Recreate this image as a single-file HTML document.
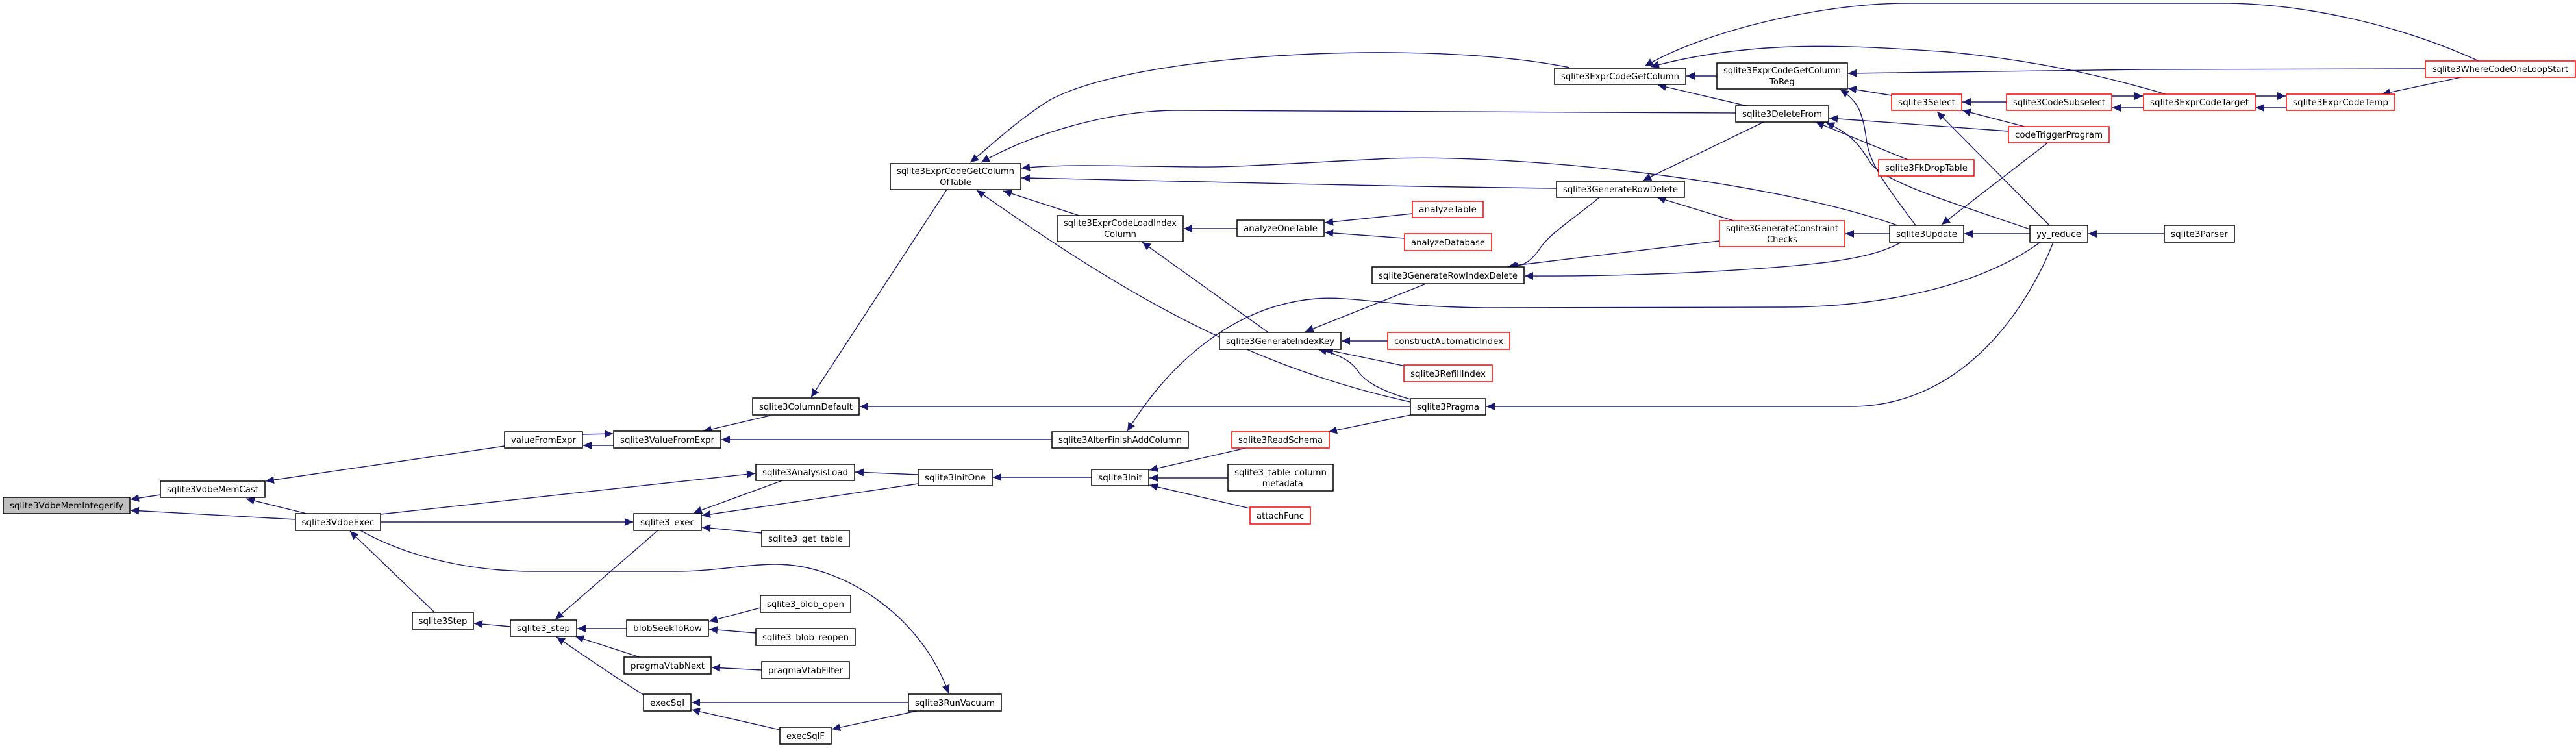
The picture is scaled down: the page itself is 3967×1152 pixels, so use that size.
<!DOCTYPE html>
<html><head><meta charset="utf-8"><style>
html,body{margin:0;padding:0;background:#fff;}
svg{display:block;}
text{font-family:"DejaVu Sans","Liberation Sans",sans-serif;font-size:13px;fill:#000;}
</style></head><body>
<svg width="3967" height="1152" viewBox="0 0 3967 1152" xmlns="http://www.w3.org/2000/svg">
<defs>
<marker id="a" markerUnits="userSpaceOnUse" markerWidth="14" markerHeight="12" refX="13" refY="6" orient="auto">
<path d="M0,0 L13,6 L0,12 Z" fill="#191970"/>
</marker>
</defs>
<g fill="none" stroke="#191970" stroke-width="1.4" marker-end="url(#a)">
<!-- left cluster -->
<path d="M247,762 L201,769"/>
<path d="M455,800 L201,786"/>
<path d="M472,791 L379,768"/>
<path d="M777,687 L409,741"/>
<path d="M897,669 L944,668"/>
<path d="M945,686 L898,686"/>
<path d="M586,792 L1163,729"/>
<path d="M586,804 L975,804"/>
<path d="M555,817 C650,870 760,880 820,880 L1041,880 C1100,880 1150,869 1194,869 C1300,869 1420,950 1461,1068"/>
<path d="M668,942 L539,818"/>
<path d="M786,965 L730,960"/>
<path d="M1013,817 L855,954"/>
<path d="M965,968 L889,968"/>
<path d="M985,1012 L886,980"/>
<path d="M991,1070 C950,1045 900,1010 857,981"/>
<path d="M1186,640 L1083,664"/>
<path d="M1458,292 L1249,612"/>
<path d="M2172,626 L1324,626"/>
<path d="M1620,677 L1111,677"/>
<path d="M3142,373 C3050,440 2900,473 2746,473 L2300,474 C2150,474 2080,455 2027,460 C1900,470 1800,560 1736,664"/>
<!-- OfTable incoming -->
<path d="M2417,104 C2200,60 1750,80 1615,155 C1560,190 1520,230 1494,250"/>
<path d="M2673,174 L1813,170 C1720,170 1600,200 1511,250"/>
<path d="M2922,347 C2700,270 2300,235 2122,245 C1980,252 1900,258 1841,257 C1720,256 1640,252 1573,259"/>
<path d="M2397,290 C2100,287 1800,278 1573,274"/>
<path d="M2172,619 C1900,560 1700,430 1504,293"/>
<path d="M1662,332 L1545,294"/>
<path d="M1905,352 L1823,352"/>
<path d="M2175,329 L2040,343"/>
<path d="M2163,367 L2040,358"/>
<path d="M1953,512 L1759,373"/>
<path d="M2196,437 L2010,511"/>
<path d="M2137,525 L2066,525"/>
<path d="M2165,564 L2040,538"/>
<path d="M2172,615 C2120,600 2100,585 2090,570 C2080,555 2060,545 2030,538"/>
<path d="M3162,373 C3120,480 3020,626 2850,626 L2289,626"/>
<path d="M2172,639 L2046,665"/>
<path d="M1919,690 L1770,724"/>
<path d="M1681,735 L1529,735"/>
<path d="M1891,736 L1770,736"/>
<path d="M1925,783 L1770,747"/>
<path d="M1414,731 L1317,727"/>
<path d="M1414,745 L1081,794"/>
<path d="M1205,740 L1068,790"/>
<path d="M1173,821 L1081,812"/>
<path d="M1171,936 L1092,957"/>
<path d="M1164,975 L1092,969"/>
<path d="M1173,1032 L1096,1028"/>
<path d="M1399,1082 L1065,1082"/>
<path d="M1412,1095 L1281,1123"/>
<path d="M1201,1124 L1065,1093"/>
<!-- right cluster -->
<path d="M2644,117 L2597,117"/>
<path d="M2690,163 L2553,131"/>
<path d="M3817,94 C3700,40 3550,5 3422,5 L2938,5 C2800,5 2620,50 2533,102"/>
<path d="M3335,145 C3250,120 3150,95 3000,80 C2850,70 2700,60 2542,103"/>
<path d="M3735,106 L3300,107 L2846,113"/>
<path d="M2913,147 L2846,136"/>
<path d="M2950,347 C2900,280 2878,250 2874,213 C2868,170 2860,155 2834,138"/>
<path d="M3090,157 L3022,157"/>
<path d="M3118,195 L3022,170"/>
<path d="M3093,202 L2817,182"/>
<path d="M2938,246 L2796,188"/>
<path d="M3126,353 C3000,310 2900,280 2880,250 C2865,225 2850,205 2812,189"/>
<path d="M2716,188 L2530,278"/>
<path d="M2670,340 L2552,304"/>
<path d="M2463,304 C2420,340 2385,360 2370,385 C2355,405 2345,410 2325,410"/>
<path d="M2648,371 L2323,410"/>
<path d="M2928,373 C2880,400 2800,410 2600,420 C2450,426 2390,425 2348,425"/>
<path d="M2910,360 L2842,360"/>
<path d="M3126,360 L3025,360"/>
<path d="M3156,347 L2983,172"/>
<path d="M3152,221 L2990,346"/>
<path d="M3333,360 L3216,360"/>
<path d="M3252,148 L3300,148"/>
<path d="M3301,166 L3253,166"/>
<path d="M3473,148 L3520,148"/>
<path d="M3521,166 L3474,166"/>
<path d="M3790,119 L3668,145"/>
</g>
<g stroke-width="1.5">
<rect x="5" y="766" width="195" height="25" fill="#bfbfbf" stroke="#000"/>
<g fill="#fff" stroke="#000">
<rect x="247" y="741" width="161" height="25"/>
<rect x="455" y="791" width="131" height="26"/>
<rect x="777" y="665" width="120" height="25"/>
<rect x="635" y="943" width="94" height="26"/>
<rect x="786" y="955" width="102" height="25"/>
<rect x="945" y="664" width="165" height="26"/>
<rect x="976" y="791" width="104" height="26"/>
<rect x="965" y="955" width="126" height="25"/>
<rect x="961" y="1012" width="134" height="26"/>
<rect x="991" y="1069" width="73" height="26"/>
<rect x="1159" y="613" width="164" height="26"/>
<rect x="1164" y="715" width="152" height="25"/>
<rect x="1173" y="817" width="135" height="25"/>
<rect x="1171" y="917" width="139" height="26"/>
<rect x="1164" y="968" width="153" height="26"/>
<rect x="1173" y="1019" width="135" height="26"/>
<rect x="1201" y="1120" width="79" height="26"/>
<rect x="1399" y="1069" width="143" height="26"/>
<rect x="1414" y="723" width="114" height="25"/>
<rect x="1371" y="252" width="201" height="40"/>
<rect x="1628" y="332" width="194" height="40"/>
<rect x="1620" y="665" width="210" height="25"/>
<rect x="1681" y="723" width="88" height="25"/>
<rect x="1905" y="339" width="134" height="25"/>
<rect x="1878" y="512" width="187" height="26"/>
<rect x="1891" y="715" width="162" height="41"/>
<rect x="2113" y="411" width="234" height="26"/>
<rect x="2172" y="614" width="116" height="25"/>
<rect x="2394" y="105" width="202" height="25"/>
<rect x="2397" y="279" width="197" height="25"/>
<rect x="2644" y="97" width="201" height="40"/>
<rect x="2673" y="163" width="143" height="25"/>
<rect x="2910" y="347" width="114" height="26"/>
<rect x="3126" y="347" width="89" height="26"/>
<rect x="3333" y="347" width="108" height="26"/>
</g>
<g fill="#fff" stroke="#ff0000">
<rect x="1897" y="665" width="150" height="25"/>
<rect x="1925" y="781" width="93" height="26"/>
<rect x="2175" y="310" width="109" height="25"/>
<rect x="2163" y="360" width="134" height="26"/>
<rect x="2137" y="512" width="188" height="26"/>
<rect x="2162" y="562" width="136" height="26"/>
<rect x="2648" y="340" width="193" height="40"/>
<rect x="2893" y="246" width="147" height="25"/>
<rect x="2913" y="145" width="108" height="25"/>
<rect x="3090" y="145" width="162" height="25"/>
<rect x="3093" y="195" width="155" height="25"/>
<rect x="3301" y="145" width="172" height="25"/>
<rect x="3521" y="145" width="167" height="25"/>
<rect x="3735" y="94" width="231" height="25"/>
</g>
</g>
<g text-anchor="middle" lengthAdjust="spacingAndGlyphs">
<text x="102.5" y="783" textLength="175" lengthAdjust="spacingAndGlyphs">sqlite3VdbeMemIntegerify</text>
<text x="327.5" y="758" textLength="141" lengthAdjust="spacingAndGlyphs">sqlite3VdbeMemCast</text>
<text x="520.5" y="809" textLength="112" lengthAdjust="spacingAndGlyphs">sqlite3VdbeExec</text>
<text x="837" y="682" textLength="100" lengthAdjust="spacingAndGlyphs">valueFromExpr</text>
<text x="682" y="961" textLength="75" lengthAdjust="spacingAndGlyphs">sqlite3Step</text>
<text x="837" y="972" textLength="82" lengthAdjust="spacingAndGlyphs">sqlite3_step</text>
<text x="1027.5" y="682" textLength="145" lengthAdjust="spacingAndGlyphs">sqlite3ValueFromExpr</text>
<text x="1028" y="809" textLength="84" lengthAdjust="spacingAndGlyphs">sqlite3_exec</text>
<text x="1028" y="972" textLength="106" lengthAdjust="spacingAndGlyphs">blobSeekToRow</text>
<text x="1028" y="1030" textLength="114" lengthAdjust="spacingAndGlyphs">pragmaVtabNext</text>
<text x="1027.5" y="1087" textLength="53" lengthAdjust="spacingAndGlyphs">execSql</text>
<text x="1241" y="631" textLength="144" lengthAdjust="spacingAndGlyphs">sqlite3ColumnDefault</text>
<text x="1240" y="732" textLength="132" lengthAdjust="spacingAndGlyphs">sqlite3AnalysisLoad</text>
<text x="1240.5" y="834" textLength="115" lengthAdjust="spacingAndGlyphs">sqlite3_get_table</text>
<text x="1240.5" y="935" textLength="119" lengthAdjust="spacingAndGlyphs">sqlite3_blob_open</text>
<text x="1240.5" y="986" textLength="133" lengthAdjust="spacingAndGlyphs">sqlite3_blob_reopen</text>
<text x="1240.5" y="1037" textLength="115" lengthAdjust="spacingAndGlyphs">pragmaVtabFilter</text>
<text x="1240.5" y="1138" textLength="59" lengthAdjust="spacingAndGlyphs">execSqlF</text>
<text x="1470.5" y="1087" textLength="123" lengthAdjust="spacingAndGlyphs">sqlite3RunVacuum</text>
<text x="1471" y="740" textLength="94" lengthAdjust="spacingAndGlyphs">sqlite3InitOne</text>
<text x="1471.5" y="268" textLength="181" lengthAdjust="spacingAndGlyphs">sqlite3ExprCodeGetColumn</text>
<text x="1471.5" y="285">OfTable</text>
<text x="1725" y="348" textLength="174" lengthAdjust="spacingAndGlyphs">sqlite3ExprCodeLoadIndex</text>
<text x="1725" y="365">Column</text>
<text x="1725" y="682" textLength="190" lengthAdjust="spacingAndGlyphs">sqlite3AlterFinishAddColumn</text>
<text x="1725" y="740" textLength="68" lengthAdjust="spacingAndGlyphs">sqlite3Init</text>
<text x="1972" y="356" textLength="114" lengthAdjust="spacingAndGlyphs">analyzeOneTable</text>
<text x="1971.5" y="530" textLength="167" lengthAdjust="spacingAndGlyphs">sqlite3GenerateIndexKey</text>
<text x="1972" y="682" textLength="130" lengthAdjust="spacingAndGlyphs">sqlite3ReadSchema</text>
<text x="1972" y="732" textLength="142" lengthAdjust="spacingAndGlyphs">sqlite3_table_column</text>
<text x="1972" y="749">_metadata</text>
<text x="1971.5" y="799" textLength="73" lengthAdjust="spacingAndGlyphs">attachFunc</text>
<text x="2229.5" y="327" textLength="89" lengthAdjust="spacingAndGlyphs">analyzeTable</text>
<text x="2230" y="378" textLength="114" lengthAdjust="spacingAndGlyphs">analyzeDatabase</text>
<text x="2230" y="429" textLength="214" lengthAdjust="spacingAndGlyphs">sqlite3GenerateRowIndexDelete</text>
<text x="2231" y="530" textLength="168" lengthAdjust="spacingAndGlyphs">constructAutomaticIndex</text>
<text x="2230" y="580" textLength="116" lengthAdjust="spacingAndGlyphs">sqlite3RefillIndex</text>
<text x="2230" y="631" textLength="96" lengthAdjust="spacingAndGlyphs">sqlite3Pragma</text>
<text x="2495" y="122" textLength="182" lengthAdjust="spacingAndGlyphs">sqlite3ExprCodeGetColumn</text>
<text x="2495.5" y="296" textLength="177" lengthAdjust="spacingAndGlyphs">sqlite3GenerateRowDelete</text>
<text x="2744.5" y="113" textLength="181" lengthAdjust="spacingAndGlyphs">sqlite3ExprCodeGetColumn</text>
<text x="2744.5" y="130">ToReg</text>
<text x="2744.5" y="180" textLength="123" lengthAdjust="spacingAndGlyphs">sqlite3DeleteFrom</text>
<text x="2744.5" y="356" textLength="173" lengthAdjust="spacingAndGlyphs">sqlite3GenerateConstraint</text>
<text x="2744.5" y="373">Checks</text>
<text x="2966.5" y="263" textLength="127" lengthAdjust="spacingAndGlyphs">sqlite3FkDropTable</text>
<text x="2967" y="162" textLength="88" lengthAdjust="spacingAndGlyphs">sqlite3Select</text>
<text x="2967" y="365" textLength="94" lengthAdjust="spacingAndGlyphs">sqlite3Update</text>
<text x="3171" y="162" textLength="142" lengthAdjust="spacingAndGlyphs">sqlite3CodeSubselect</text>
<text x="3170.5" y="212" textLength="135" lengthAdjust="spacingAndGlyphs">codeTriggerProgram</text>
<text x="3170.5" y="365" textLength="69" lengthAdjust="spacingAndGlyphs">yy_reduce</text>
<text x="3387" y="162" textLength="152" lengthAdjust="spacingAndGlyphs">sqlite3ExprCodeTarget</text>
<text x="3387" y="365" textLength="88" lengthAdjust="spacingAndGlyphs">sqlite3Parser</text>
<text x="3604.5" y="162" textLength="147" lengthAdjust="spacingAndGlyphs">sqlite3ExprCodeTemp</text>
<text x="3850.5" y="111" textLength="209" lengthAdjust="spacingAndGlyphs">sqlite3WhereCodeOneLoopStart</text>
</g>
</svg>
</body></html>
